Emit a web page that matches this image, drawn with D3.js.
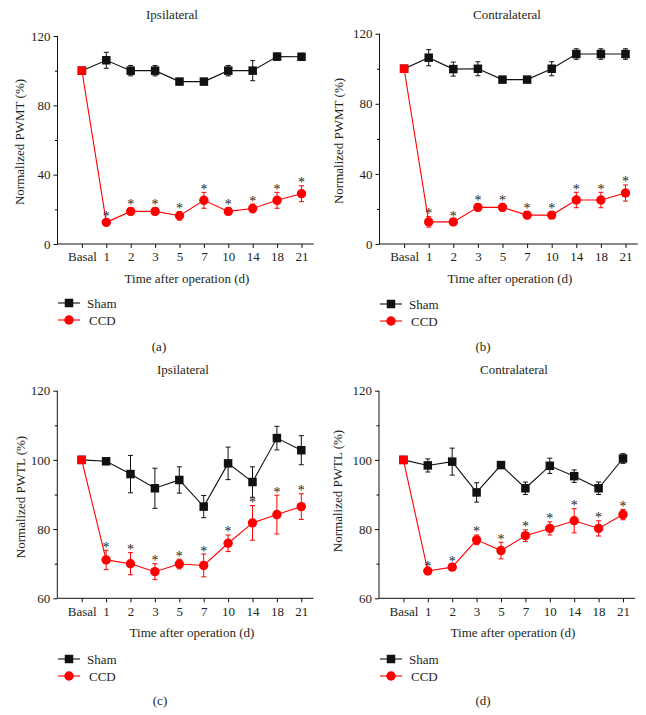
<!DOCTYPE html>
<html><head><meta charset="utf-8">
<script src="https://cdn.jsdelivr.net/npm/d3@7"></script>
<style>
html,body{margin:0;padding:0;background:#fff;}
svg text{font-family:"Liberation Serif","Times New Roman",serif;fill:#231f20;}
</style></head>
<body><svg id="c" width="646" height="715"></svg>
<script>
// ---- data ----
const categories = ["Basal","1","2","3","5","7","10","14","18","21"];
const seriesNames = ["Sham","CCD"];
const panelLetters = ["(a)","(b)","(c)","(d)"];
const panelTitles = ["Ipsilateral","Contralateral","Ipsilateral","Contralateral"];
const yLabels = ["Normalized PWMT (%)","Normalized PWMT (%)","Normalized PWTL (%)","Normalized PWTL (%)"];
const xTitle = "Time after operation (d)";
const yTicksPWMT = [0,40,80,120];
const yTicksPWTL = [60,80,100,120];

// (a) PWMT ipsilateral
const shamA = [100,106,100,100,93.7,93.7,100,100,108.1,108];
const shamAErr = [1,4.6,3,3,1.5,1.5,3,5.8,2,2];
const ccdA = [100,12.5,18.8,18.8,16.3,25.2,18.8,20.5,25.2,29];
const ccdAErr = [1,1.5,2,2,2.5,4.6,2,2.5,4.6,4.6];
// (b) PWMT contralateral
const shamB = [100,106.3,99.8,100,93.8,93.8,100,108.4,108.4,108.4];
const shamBErr = [1,4.6,4,4,1.5,1.5,4,3,3,3];
const ccdB = [100,12.6,12.6,20.9,20.9,16.5,16.5,25.1,25.1,29.1];
const ccdBErr = [1,3,1.5,2,2,2,2,4.4,4.4,4.6];
// (c) PWTL ipsilateral
const shamC = [100,99.6,95.9,91.8,94.2,86.5,99,93.6,106.3,102.8];
const shamCErr = [1,0.7,5.4,5.8,3.8,3.2,4.7,4.4,3.4,4.2];
const ccdC = [100,71.1,70,67.7,69.9,69.5,75.9,81.8,84.2,86.5];
const ccdCErr = [1,2.8,3.2,2.3,1.4,3.3,2.4,5,5.6,3.7];
// (d) PWTL contralateral
const shamD = [100,98.4,99.5,90.6,98.5,91.8,98.3,95.3,91.8,100.4];
const shamDErr = [0.8,1.9,3.9,2.8,0.8,1.8,2.2,1.8,1.8,1.4];
const ccdD = [100,67.9,69,76.9,73.8,78.1,80.2,82.4,80.2,84.2];
const ccdDErr = [0.8,0.5,0.8,1.4,2.4,1.7,1.9,3.5,2.2,1.5];

const panelData = [
  {sham:shamA, shamErr:shamAErr, ccd:ccdA, ccdErr:ccdAErr, yDom:[0,120], ticks:yTicksPWMT},
  {sham:shamB, shamErr:shamBErr, ccd:ccdB, ccdErr:ccdBErr, yDom:[0,120], ticks:yTicksPWMT},
  {sham:shamC, shamErr:shamCErr, ccd:ccdC, ccdErr:ccdCErr, yDom:[60,120], ticks:yTicksPWTL},
  {sham:shamD, shamErr:shamDErr, ccd:ccdD, ccdErr:ccdDErr, yDom:[60,120], ticks:yTicksPWTL}
];

// ---- layout ----
const layout = [
  {x0:57.5, step:24.4, yBot:244, yTop:36,   title:[172,19],  ylab:[19,142],  xt:[187,283], leg:[58,303], lett:[159,351]},
  {x0:379.5,step:24.6, yBot:244, yTop:33.7, title:[507,19],  ylab:[338,141], xt:[510,283], leg:[380,304], lett:[483,351]},
  {x0:57.3, step:24.4, yBot:598.3,yTop:390.7,title:[183,374], ylab:[20,497], xt:[192,637], leg:[58,659], lett:[160,705]},
  {x0:379, step:24.4, yBot:598.3,yTop:390.7,title:[514,374], ylab:[337,491], xt:[513,637], leg:[380,659], lett:[483,705]}
];

const RED = "#ff0000", BLACK = "#111";
const svg = d3.select("#c");

panelData.forEach((pd, pi) => {
  const L = layout[pi];
  const g = svg.append("g");
  const x = d3.scaleLinear().domain([-1, 9.5]).range([L.x0, L.x0 + 10.5*L.step]);
  const y = d3.scaleLinear().domain(pd.yDom).range([L.yBot, L.yTop]);
  const xi = (d,i) => x(i);

  // axes
  const yAxis = d3.axisLeft(y).tickValues(pd.ticks).tickSize(4).tickPadding(3).tickFormat(d3.format("d"));
  const ga = g.append("g").attr("transform", `translate(${L.x0},0)`).call(yAxis);
  const minor = [];
  for (let k = 0; k < pd.ticks.length-1; k++) minor.push((pd.ticks[k]+pd.ticks[k+1])/2);
  g.append("g").attr("transform", `translate(${L.x0},0)`)
    .call(d3.axisLeft(y).tickValues(minor).tickSize(2.5).tickFormat(""))
    .select(".domain").remove();
  const xAxis = d3.axisBottom(x).tickValues(d3.range(categories.length)).tickSize(4).tickPadding(4)
    .tickFormat(i => categories[i]);
  const gx = g.append("g").attr("transform", `translate(0,${L.yBot})`).call(xAxis);
  [ga, gx].forEach(a => {
    a.selectAll("path.domain").attr("stroke", BLACK).attr("stroke-width", 1).attr("d", null);
    a.selectAll("line").attr("stroke", BLACK);
    a.selectAll("text").style("font-size", "13px").attr("fill", "#231f20");
  });
  ga.select("path.domain").attr("d", `M0,${L.yTop}V${L.yBot}`);
  gx.select("path.domain").attr("d", `M${L.x0},0H${L.x0 + 10.5*L.step}`);

  // titles
  g.append("text").attr("x", L.title[0]).attr("y", L.title[1]).attr("text-anchor","middle")
    .style("font-size","13px").text(panelTitles[pi]);
  g.append("text").attr("transform", `translate(${L.ylab[0]},${L.ylab[1]}) rotate(-90)`)
    .attr("text-anchor","middle").attr("dy","0.35em").style("font-size","13px").text(yLabels[pi]);
  g.append("text").attr("x", L.xt[0]).attr("y", L.xt[1]).attr("text-anchor","middle")
    .style("font-size","13px").text(xTitle);
  g.append("text").attr("x", L.lett[0]).attr("y", L.lett[1]).attr("text-anchor","middle")
    .style("font-size","13px").text(panelLetters[pi]);

  const line = d3.line().x(xi).y(d => y(d));
  // lines
  g.append("path").datum(pd.sham).attr("d", line).attr("fill","none").attr("stroke",BLACK).attr("stroke-width",1.1);
  g.append("path").datum(pd.ccd).attr("d", line).attr("fill","none").attr("stroke",RED).attr("stroke-width",1.1);

  // error bars
  function errBars(vals, errs, color) {
    const eg = g.append("g").attr("stroke", color).attr("stroke-width", 1);
    vals.forEach((v, i) => {
      const cx = x(i), t = y(v + errs[i]), b = y(v - errs[i]);
      eg.append("line").attr("x1",cx).attr("x2",cx).attr("y1",t).attr("y2",b);
      eg.append("line").attr("x1",cx-2.5).attr("x2",cx+2.5).attr("y1",t).attr("y2",t);
      eg.append("line").attr("x1",cx-2.5).attr("x2",cx+2.5).attr("y1",b).attr("y2",b);
    });
  }
  errBars(pd.sham, pd.shamErr, BLACK);
  errBars(pd.ccd, pd.ccdErr, RED);

  // markers
  const s = 8.5;
  g.selectAll("rect.sham").data(pd.sham).enter().append("rect")
    .attr("x", (d,i) => x(i)-s/2).attr("y", d => y(d)-s/2).attr("width", s).attr("height", s)
    .attr("fill", BLACK);
  pd.ccd.forEach((v, i) => {
    if (i === 0) {
      g.append("rect").attr("x", x(i)-s/2).attr("y", y(v)-s/2).attr("width", s).attr("height", s).attr("fill", RED);
    } else {
      g.append("circle").attr("cx", x(i)).attr("cy", y(v)).attr("r", 4.7).attr("fill", RED);
    }
  });
  // significance asterisks
  pd.ccd.forEach((v, i) => {
    if (i === 0) return;
    g.append("text").attr("x", x(i)).attr("y", y(v + pd.ccdErr[i]) + 1.5).attr("text-anchor","middle")
      .style("font-size","14px").attr("fill","#333").text("*");
  });

  // legend
  const lg = g.append("g");
  seriesNames.forEach((name, k) => {
    const ly = L.leg[1] + k*17;
    const col = k === 0 ? BLACK : RED;
    lg.append("line").attr("x1", L.leg[0]).attr("x2", L.leg[0]+22).attr("y1", ly).attr("y2", ly)
      .attr("stroke", col).attr("stroke-width", 1.1);
    if (k === 0) lg.append("rect").attr("x", L.leg[0]+11-s/2).attr("y", ly-s/2).attr("width", s).attr("height", s).attr("fill", col);
    else lg.append("circle").attr("cx", L.leg[0]+11).attr("cy", ly).attr("r", 4.7).attr("fill", col);
    lg.append("text").attr("x", L.leg[0] + (k === 0 ? 29 : 31)).attr("y", ly).attr("dy","0.35em")
      .style("font-size","13px").text(name);
  });
});
</script></body></html>
